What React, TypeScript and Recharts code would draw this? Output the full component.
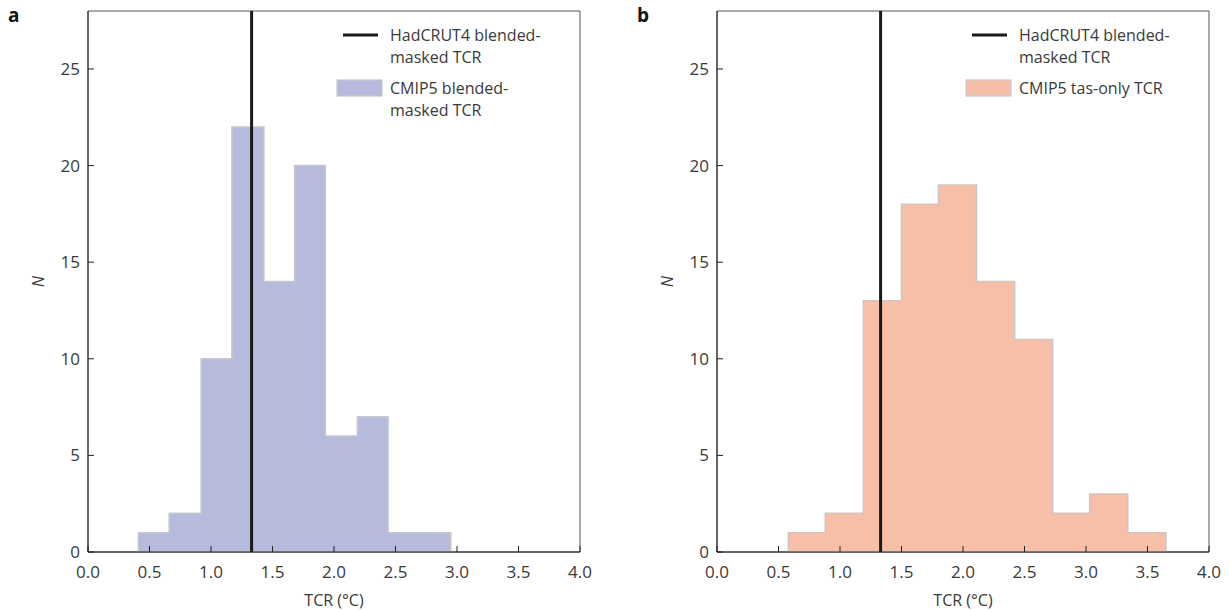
import {
  ComposedChart,
  Area,
  XAxis,
  YAxis,
  ReferenceLine,
  ReferenceArea,
} from 'recharts'

// ── Data ───────────────────────────────────────────────────────────────────────
const xTicks = [0, 0.5, 1, 1.5, 2, 2.5, 3, 3.5, 4]
const yTicks = [0, 5, 10, 15, 20, 25]

const hadcrutTcr = 1.33

// panel a: CMIP5 blended-masked TCR
const edgesA = [0.41, 0.66, 0.92, 1.17, 1.43, 1.68, 1.93, 2.19, 2.44, 2.7, 2.95]
const countsA = [1, 2, 10, 22, 14, 20, 6, 7, 1, 1]

// panel b: CMIP5 tas-only TCR
const edgesB = [0.58, 0.88, 1.19, 1.5, 1.8, 2.11, 2.42, 2.73, 3.03, 3.34, 3.65]
const countsB = [1, 2, 13, 18, 19, 14, 11, 2, 3, 1]

const FONT = '"Open Sans", "Noto Sans", sans-serif'
const TEXT = '#3a3a3a'

// step outline: up the first edge, across each bin, down the last edge
function stepData(edges: number[], counts: number[]) {
  const rows = [{ x: edges[0], n: 0 }]
  counts.forEach((c, i) => rows.push({ x: edges[i], n: c }))
  rows.push({ x: edges[edges.length - 1], n: counts[counts.length - 1] })
  rows.push({ x: edges[edges.length - 1], n: 0 })
  return rows
}

// ── Leyenda (arriba a la derecha, dentro del marco) ───────────────────────────
function LegendBox({ fill, lines }: { fill: string; lines: string[] }) {
  const textStyle = { fontFamily: FONT, fontSize: 16, fill: TEXT }
  return (
    <svg width={260} height={120} style={{ overflow: 'visible', display: 'block' }}>
      <line x1={13} x2={48} y1={24} y2={24} stroke="#1a1a1a" strokeWidth={3} />
      <text x={60} y={24} dominantBaseline="central" {...textStyle}>HadCRUT4 blended-</text>
      <text x={60} y={46} dominantBaseline="central" {...textStyle}>masked TCR</text>
      <rect x={7} y={69} width={45} height={16} fill={fill} stroke="#c8c8c8" strokeWidth={1.2} />
      {lines.map((t, i) => (
        <text key={t} x={60} y={77 + i * 22} dominantBaseline="central" {...textStyle}>
          {t}
        </text>
      ))}
    </svg>
  )
}

function Panel({
  edges,
  counts,
  fill,
  width,
  right,
}: {
  edges: number[]
  counts: number[]
  fill: string
  width: number
  right: number
}) {
  const data = stepData(edges, counts)
  return (
    <ComposedChart
      width={width}
      height={610}
      data={data}
      margin={{ top: 11, right, bottom: 0, left: 0 }}
      style={{ fontFamily: FONT }}
    >
      <XAxis
        dataKey="x"
        type="number"
        domain={[0, 4]}
        ticks={xTicks}
        allowDataOverflow
        tickFormatter={(v: number) => v.toFixed(1)}
        height={58}
        tickSize={-6}
        tickMargin={20}
        stroke="#222"
        tick={{ fontSize: 17, fill: TEXT, fontFamily: FONT }}
        label={{
          value: 'TCR (°C)',
          position: 'insideBottom',
          offset: 4,
          style: { fontSize: 16, fill: TEXT, fontFamily: FONT },
        }}
      />
      <YAxis
        type="number"
        domain={[0, 28]}
        ticks={yTicks}
        allowDataOverflow
        width={88}
        tickSize={-6}
        tickMargin={14}
        stroke="#222"
        tick={{ fontSize: 17, fill: TEXT, fontFamily: FONT }}
        label={{
          value: 'N',
          angle: -90,
          position: 'insideLeft',
          offset: 38,
          style: { fontSize: 16, fill: TEXT, fontFamily: FONT, fontStyle: 'italic', textAnchor: 'middle' },
        }}
      />
      <ReferenceArea x1={0} x2={4} y1={0} y2={28} fill="none" stroke="#555" strokeWidth={1} ifOverflow="visible" />
      <Area
        type="stepAfter"
        dataKey="n"
        stroke="#c8c8c8"
        strokeWidth={1.5}
        fill={fill}
        fillOpacity={1}
        dot={false}
        activeDot={false}
        isAnimationActive={false}
      />
      <ReferenceLine x={hadcrutTcr} stroke="#1a1a1a" strokeWidth={3} />
    </ComposedChart>
  )
}

export default function App() {
  const letter = { position: 'absolute' as const, top: 2, fontFamily: FONT, fontWeight: 700, fontSize: 19, color: '#111' }
  return (
    <div
      style={{
        position: 'absolute',
        left: 0,
        top: 0,
        width: 1229,
        height: 610,
        overflow: 'hidden',
        background: '#fff',
      }}
    >
      <div style={{ position: 'absolute', left: 0, top: 0 }}>
        <Panel edges={edgesA} counts={countsA} fill="#b6badc" width={620} right={40} />
      </div>
      <div style={{ position: 'absolute', left: 629, top: 0 }}>
        <Panel edges={edgesB} counts={countsB} fill="#f8bfa8" width={600} right={20} />
      </div>
      <div style={{ ...letter, left: 8 }}>a</div>
      <div style={{ ...letter, left: 637 }}>b</div>
      <div style={{ position: 'absolute', left: 330, top: 11 }}>
        <LegendBox fill="#b6badc" lines={['CMIP5 blended-', 'masked TCR']} />
      </div>
      <div style={{ position: 'absolute', left: 959, top: 11 }}>
        <LegendBox fill="#f8bfa8" lines={['CMIP5 tas-only TCR']} />
      </div>
    </div>
  )
}
